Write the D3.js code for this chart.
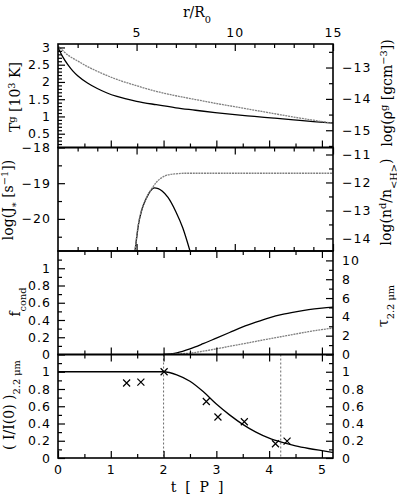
<!DOCTYPE html>
<html><head><meta charset="utf-8">
<script src="https://cdn.jsdelivr.net/npm/d3@7"></script>
<style>body{margin:0;background:#fff}svg{display:block}</style>
</head><body>
<script>
// ---------- data ----------
// panel 1 (vs r/R0)
const rGas = [1,1.25,1.5,1.75,2,2.5,3,3.5,4,5,6,7,8,9,10,11,12,13,14,15];
const gasTemp = [3.0,2.72,2.5,2.32,2.18,1.97,1.81,1.68,1.58,1.44,1.34,1.25,1.18,1.11,1.05,1.0,0.95,0.9,0.85,0.81];
const rRho = [1,1.5,2,2.5,3,4,5,6,7,8,9,10,11,12,13,14,15];
const gasDensity = [-12.31,-12.6,-12.79,-12.97,-13.12,-13.38,-13.58,-13.76,-13.9,-14.02,-14.14,-14.25,-14.36,-14.47,-14.58,-14.68,-14.78];
// panel 2 (vs r/R0)
const rNuc = [4.92,5.0,5.1,5.25,5.5,5.7,5.9,6.1,6.3,6.6,7.0,7.35,7.72];
const nucRate = [-20.9,-20.55,-20.15,-19.78,-19.42,-19.22,-19.13,-19.15,-19.22,-19.4,-19.8,-20.25,-20.9];
const rDust = [4.92,5.0,5.1,5.25,5.5,5.75,6.0,6.3,6.6,7.0,7.5,15];
const dustNumber = [-14.45,-13.95,-13.45,-13.0,-12.55,-12.25,-12.0,-11.82,-11.73,-11.69,-11.67,-11.67];
// panel 3 (vs t/P)
const tCond = [2.0,2.25,2.5,2.75,3.0,3.25,3.5,3.75,4.0,4.25,4.5,4.75,5.0,5.21];
const fCond = [0,0.02,0.065,0.125,0.19,0.255,0.32,0.375,0.425,0.465,0.495,0.52,0.538,0.55];
const tau22 = [0,0.05,0.15,0.35,0.6,0.87,1.13,1.4,1.66,1.92,2.18,2.43,2.65,2.8];
// panel 4 (vs t/P)
const tModel = [0,1,2,2.25,2.5,2.75,3.0,3.25,3.5,3.75,4.0,4.25,4.5,4.75,5.0,5.21];
const intensityModel = [1,1,1,0.965,0.89,0.77,0.625,0.5,0.39,0.3,0.23,0.18,0.14,0.11,0.085,0.065];
const tObs = [1.30,1.57,2.01,2.81,3.03,3.53,4.12,4.34];
const intensityObs = [0.87,0.88,1.0,0.655,0.475,0.42,0.165,0.195];
const tMarks = [2.0,4.22];

// ---------- tick values ----------
const rMajor = [5,10,15];
const rMinor = [2,3,4,6,7,8,9,11,12,13,14];
const tMajor = [0,1,2,3,4,5];
const tMinor = [0.5,1.5,2.5,3.5,4.5];
const tempTicks = [0.5,1,1.5,2,2.5,3];
const tempMinor = d3.range(2,31).map(d=>d/10).filter(d=>Math.round(d*10)%5!==0);
const rhoTicks = [-13,-14,-15];
const rhoMinor = [-12.5,-13.5,-14.5,-15.5];
const jTicks = [-18,-19,-20];
const jMinor = [-18.5,-19.5,-20.5];
const ndTicks = [-11,-12,-13,-14];
const ndMinor = [-11.5,-12.5,-13.5];
const fracTicks = [0,0.2,0.4,0.6,0.8,1];
const fracMinor = [0.1,0.3,0.5,0.7,0.9,1.1];
const tauTicks = [0,2,4,6,8,10];
const tauMinor = [1,3,5,7,9];

// ---------- layout ----------
const W=397,H=496, L=58, R=333, top0=44, ph=103.5;
const tops=[0,1,2,3].map(i=>top0+i*ph);
const svg=d3.select("body").append("svg").attr("width",W).attr("height",H);
const xT=d3.scaleLinear().domain([0,5.21]).range([L,R]);
const xR=d3.scaleLinear().domain([1,15]).range([L,R]);
const yS=(i,dom)=>d3.scaleLinear().domain(dom).range([tops[i]+ph,tops[i]]);

const y1L=yS(0,[0.1,3.1]), y1R=yS(0,[-15.55,-12.25]);
const y2L=yS(1,[-20.9,-18]), y2R=yS(1,[-14.45,-10.75]);
const y3L=yS(2,[0,1.2]), y3R=yS(2,[0,11]);
const y4L=yS(3,[0,1.2]), y4R=yS(3,[0,1.2]);

const TF="DejaVu Sans", SF="DejaVu Serif";
function ax(axisGen, scale, vals, size, pad, fmt, tx, ty){
  const a=axisGen(scale).tickValues(vals).tickSize(-size).tickPadding(pad)
    .tickFormat(fmt?fmt:"");
  const g=svg.append("g").attr("transform",`translate(${tx},${ty})`).call(a);
  g.select(".domain").remove();
  g.attr("font-family",TF).attr("font-size",12.5).attr("letter-spacing","1px");
  g.selectAll("line").attr("stroke","#000").attr("stroke-width",1.2);
  return g;
}
const num=d=>String(+d.toFixed(2));
const neg=d=>"\u2212"+Math.abs(d);

// clip paths
const defs=svg.append("defs");
tops.forEach((t,i)=>defs.append("clipPath").attr("id","c"+i)
  .append("rect").attr("x",L).attr("y",t).attr("width",R-L).attr("height",ph));

function curve(i,xs,ys,xsc,ysc,opts){
  const line=d3.line().x((d,k)=>xsc(xs[k])).y((d,k)=>ysc(ys[k])).curve(d3.curveMonotoneX);
  svg.append("path").attr("clip-path",`url(#c${i})`).datum(xs).attr("d",line)
    .attr("fill","none").attr("stroke",opts.color).attr("stroke-width",opts.w)
    .attr("stroke-dasharray",opts.dash||null);
}
const solid={color:"#000",w:1.3};
const dotted={color:"#808080",w:1.3,dash:"2,0.8"};

// panel 1
curve(0,rGas,gasTemp,xR,y1L,solid);
curve(0,rRho,gasDensity,xR,y1R,dotted);
// panel 2
curve(1,rNuc,nucRate,xR,y2L,solid);
curve(1,rDust,dustNumber,xR,y2R,dotted);
// panel 3
curve(2,tCond,fCond,xT,y3L,solid);
curve(2,tCond,tau22,xT,y3R,dotted);
// panel 4
svg.append("g").selectAll("line").data(tMarks).join("line")
  .attr("x1",d=>xT(d)).attr("x2",d=>xT(d)).attr("y1",tops[3]).attr("y2",tops[3]+ph)
  .attr("stroke","#444").attr("stroke-width",0.8).attr("stroke-dasharray","2,2");
curve(3,tModel,intensityModel,xT,y4L,solid);
const obs=svg.append("g").selectAll("g").data(tObs).join("g")
  .attr("transform",(d,k)=>`translate(${xT(d)},${y4L(intensityObs[k])})`);
obs.append("path").attr("d","M-3.5,-3.5L3.5,3.5M-3.5,3.5L3.5,-3.5")
  .attr("stroke","#000").attr("stroke-width",1.2);

// axes
// panel 1
ax(d3.axisTop,xR,rMajor,7,7,num,0,tops[0]);
ax(d3.axisTop,xR,rMinor,4,7,null,0,tops[0]);
ax(d3.axisBottom,xT,tMajor.slice(1),7,7,null,0,tops[0]+ph);
ax(d3.axisBottom,xT,tMinor,4,7,null,0,tops[0]+ph);
ax(d3.axisLeft,y1L,tempTicks,7,7,num,L,0);
ax(d3.axisLeft,y1L,tempMinor,4,7,null,L,0);
ax(d3.axisRight,y1R,rhoTicks,7,9,neg,R,0);
ax(d3.axisRight,y1R,rhoMinor,4,9,null,R,0);
// panel 2
ax(d3.axisTop,xR,rMajor,7,7,null,0,tops[1]);
ax(d3.axisTop,xR,rMinor,4,7,null,0,tops[1]);
ax(d3.axisBottom,xR,rMajor,7,7,null,0,tops[1]+ph);
ax(d3.axisBottom,xR,rMinor,4,7,null,0,tops[1]+ph);
ax(d3.axisLeft,y2L,jTicks,7,7,neg,L,0);
ax(d3.axisLeft,y2L,jMinor,4,7,null,L,0);
ax(d3.axisRight,y2R,ndTicks,7,9,neg,R,0);
ax(d3.axisRight,y2R,ndMinor,4,9,null,R,0);
// panel 3
ax(d3.axisTop,xT,tMajor.slice(1),7,7,null,0,tops[2]);
ax(d3.axisTop,xT,tMinor,4,7,null,0,tops[2]);
ax(d3.axisBottom,xT,tMajor.slice(1),7,7,null,0,tops[2]+ph);
ax(d3.axisBottom,xT,tMinor,4,7,null,0,tops[2]+ph);
ax(d3.axisLeft,y3L,fracTicks,7,7,num,L,0);
ax(d3.axisLeft,y3L,fracMinor,4,7,null,L,0);
ax(d3.axisRight,y3R,tauTicks,7,9,num,R,0);
ax(d3.axisRight,y3R,tauMinor,4,9,null,R,0);
// panel 4
ax(d3.axisTop,xT,tMajor.slice(1),7,7,null,0,tops[3]);
ax(d3.axisTop,xT,tMinor,4,7,null,0,tops[3]);
ax(d3.axisBottom,xT,tMajor,7,7,num,0,tops[3]+ph);
ax(d3.axisBottom,xT,tMinor,4,7,null,0,tops[3]+ph);
ax(d3.axisLeft,y4L,fracTicks,7,7,num,L,0);
ax(d3.axisLeft,y4L,fracMinor,4,7,null,L,0);
ax(d3.axisRight,y4R,fracTicks,7,9,num,R,0);
ax(d3.axisRight,y4R,fracMinor,4,9,null,R,0);

// frames
tops.forEach(t=>svg.append("rect").attr("x",L).attr("y",t).attr("width",R-L).attr("height",ph)
  .attr("fill","none").attr("stroke","#000").attr("stroke-width",1.6));

// titles
function title(x,y,rot,parts,size){
  const fs=size||14;
  const t=svg.append("text").attr("transform",`translate(${x},${y}) rotate(${rot})`)
    .attr("text-anchor","middle").attr("font-family",SF).attr("font-size",fs);
  parts.forEach(p=>{
    const s=t.append("tspan").text(p[0]);
    if(p[1]==="sup") s.attr("baseline-shift","super").attr("font-size",fs*0.7);
    if(p[1]==="sub") s.attr("baseline-shift","sub").attr("font-size",fs*0.7);
  });
  return t;
}
title(197,17,0,[["r/R"],["0","sub"]],14);
title(197,492,0,[["t\u00a0\u00a0[\u00a0\u00a0P\u00a0\u00a0]"]],14);
title(20,97,-90,[["T"],["g","sup"],[" [10"],["3","sup"],[" K]"]]);
title(13,200,-90,[["log(J"],["*","sub"],[" [s"],["\u22121","sup"],["])"]]);
title(20,302,-90,[["f"],["cond","sub"]]);
title(14,405,-90,[["( I/I(0) )"],["2.2 \u03bcm","sub"]]);
title(392,93,-90,[["log(\u03c1"],["g","sup"],[" [gcm"],["\u22123","sup"],["])"]]);
title(391,202,-90,[["log(n"],["d","sup"],["/n"],["<H>","sub"],[")"]]);
title(388,306,-90,[["\u03c4"],["2.2 \u03bcm","sub"]]);
</script>
</body></html>
